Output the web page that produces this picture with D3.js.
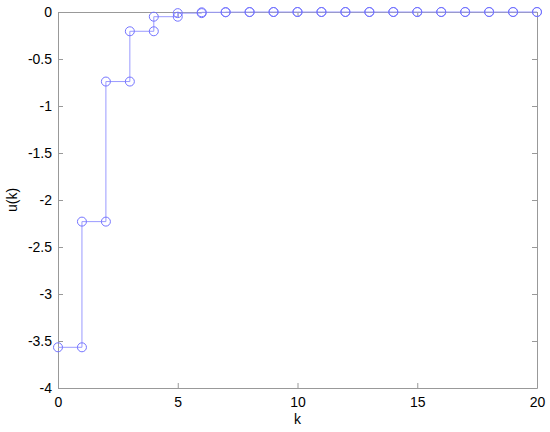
<!DOCTYPE html>
<html>
<head>
<meta charset="utf-8">
<script src="https://cdn.jsdelivr.net/npm/d3@7"></script>
<style>
  body { margin: 0; background: #fff; }
  text { font-family: "Liberation Sans", Arial, sans-serif; }
</style>
</head>
<body>
<div id="chart"></div>
<script>
// control signal u(k), k = 0..20
var kValues = d3.range(0, 21);
var uValues = [-3.567, -2.23, -0.74, -0.205, -0.05, -0.012, -0.003, -0.001, 0, 0,
               0, 0, 0, 0, 0, 0, 0, 0, 0, 0, 0];
var xTicks = [0, 5, 10, 15, 20];
var yTicks = [0, -0.5, -1, -1.5, -2, -2.5, -3, -3.5, -4];

var svgWidth = 550;
var svgHeight = 432;
var margin = {left: 58, right: 13, top: 12, bottom: 44};
var lineColor = "#9a9aff";
var markerColor = "#7474ff";

var svg = d3.select("#chart")
	.append("svg")
	.attr("width", svgWidth)
	.attr("height", svgHeight);

var x = d3.scaleLinear()
	.domain([0, 20])
	.range([margin.left, svgWidth - margin.right]);
var y = d3.scaleLinear()
	.domain([-4, 0])
	.range([svgHeight - margin.bottom, margin.top]);

// stair vertices: (k, u(k)) then (k+1, u(k))
var stairs = [];
for (var i = 0; i < kValues.length; i++) {
	stairs.push([kValues[i], uValues[i]]);
	if (i < kValues.length - 1) stairs.push([kValues[i + 1], uValues[i]]);
}

// axes box
var axisColor = "#999";
var tickLen = 5;
var plainFormat = (d) => String(d);
svg.append("g")
	.attr("transform", "translate(0," + y(-4) + ")")
	.call(d3.axisBottom(x).tickValues(xTicks).tickSizeInner(-tickLen).tickSizeOuter(0).tickPadding(9).tickFormat(plainFormat));
svg.append("g")
	.attr("transform", "translate(0," + y(0) + ")")
	.call(d3.axisTop(x).tickValues(xTicks).tickSizeInner(-tickLen).tickSizeOuter(0).tickFormat(""));
svg.append("g")
	.attr("transform", "translate(" + x(0) + ",0)")
	.call(d3.axisLeft(y).tickValues(yTicks).tickSizeInner(-tickLen).tickSizeOuter(0).tickPadding(6).tickFormat(plainFormat));
svg.append("g")
	.attr("transform", "translate(" + x(20) + ",0)")
	.call(d3.axisRight(y).tickValues(yTicks).tickSizeInner(-tickLen).tickSizeOuter(0).tickFormat(""));

svg.selectAll(".domain").attr("stroke", axisColor);
svg.selectAll(".tick line").attr("stroke", axisColor);
svg.selectAll(".tick text")
	.attr("fill", "#000")
	.style("font-size", "14px")
	.style("font-family", "Liberation Sans, Arial, sans-serif");

// stairs line
var line = d3.line()
	.x((d) => x(d[0]))
	.y((d) => y(d[1]));

svg.append("path")
	.datum(stairs)
	.attr("d", line)
	.attr("fill", "none")
	.attr("stroke", lineColor)
	.attr("stroke-width", 1);

svg.selectAll("circle")
	.data(stairs)
	.enter()
	.append("circle")
	.attr("cx", (d) => x(d[0]))
	.attr("cy", (d) => y(d[1]))
	.attr("r", 4.5)
	.attr("fill", "none")
	.attr("stroke", markerColor)
	.attr("stroke-width", 1);

// labels
svg.append("text")
	.attr("x", (x(0) + x(20)) / 2)
	.attr("y", 424)
	.attr("text-anchor", "middle")
	.style("font-size", "14px")
	.text("k");

svg.append("text")
	.attr("transform", "translate(17," + (y(-2)) + ") rotate(-90)")
	.attr("text-anchor", "middle")
	.style("font-size", "14px")
	.text("u(k)");
</script>
</body>
</html>
